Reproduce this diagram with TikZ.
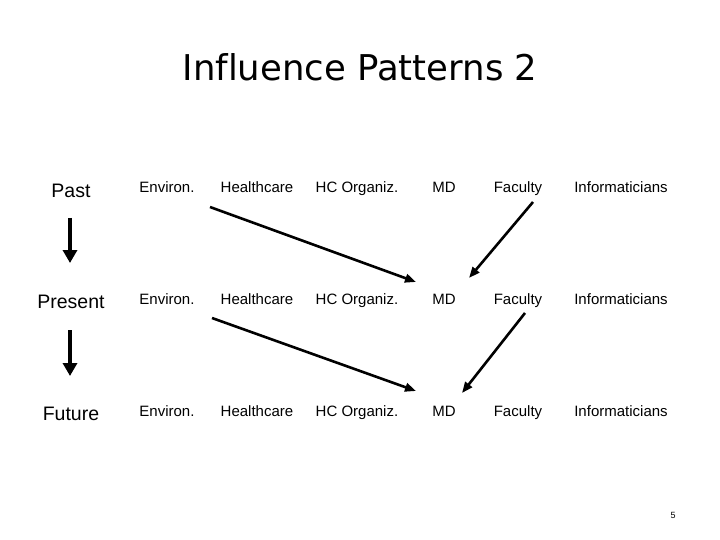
\documentclass[tikz,border=0pt]{standalone}
\usepackage{fontspec}
\setmainfont{Liberation Sans}
\newfontfamily\titlefont[Ligatures=NoCommon]{DejaVu Sans}
\usetikzlibrary{arrows.meta}
\begin{document}
\begin{tikzpicture}[x=1pt,y=-1pt,
  col/.style={font=\fontsize{15}{18}\selectfont, inner sep=0pt, anchor=base},
  rowlab/.style={font=\fontsize{19.5}{23}\selectfont, inner sep=0pt, anchor=base},
  timearrow/.style={line width=4.5pt, -{Triangle[width=14pt,length=13pt]}},
  infl/.style={line width=2.6pt, -{Triangle[width=8.5pt,length=11pt]}}]
\useasboundingbox (0,0) rectangle (720,540);
\node[font=\titlefont\fontsize{35.5}{40}\selectfont, inner sep=0pt, anchor=base] (title) at (360,81) {Influence Patterns 2};
% row labels
\node[rowlab] (past) at (71,197) {Past};
\node[rowlab] (present) at (71,308) {Present};
\node[rowlab] (future) at (71,420) {Future};
% columns
\foreach \r/\y in {1/193,2/304,3/416}{
  \node[col] (env\r) at (167,\y) {Environ.};
  \node[col] (hc\r) at (257,\y) {Healthcare};
  \node[col] (org\r) at (357,\y) {HC Organiz.};
  \node[col] (md\r) at (444,\y) {MD};
  \node[col] (fac\r) at (518,\y) {Faculty};
  \node[col] (inf\r) at (621,\y) {Informaticians};
}
\coordinate (a1s) at (210,207);
\coordinate (a1e) at (416,282);
\coordinate (b1s) at (533,202);
\coordinate (b1e) at (469,278);
\coordinate (a2s) at (212,318);
\coordinate (a2e) at (416,391);
\coordinate (b2s) at (525,313);
\coordinate (b2e) at (462,393);
\coordinate (t1s) at (70,218);
\coordinate (t1e) at (70,263);
\coordinate (t2s) at (70,330);
\coordinate (t2e) at (70,376);
\draw[timearrow] (t1s) -- (t1e);
\draw[timearrow] (t2s) -- (t2e);
\draw[infl] (a1s) -- (a1e);
\draw[infl] (b1s) -- (b1e);
\draw[infl] (a2s) -- (a2e);
\draw[infl] (b2s) -- (b2e);
\node[font=\fontsize{9}{10}\selectfont, inner sep=0pt, anchor=base] (pg) at (673,518) {5};
\end{tikzpicture}
\end{document}
